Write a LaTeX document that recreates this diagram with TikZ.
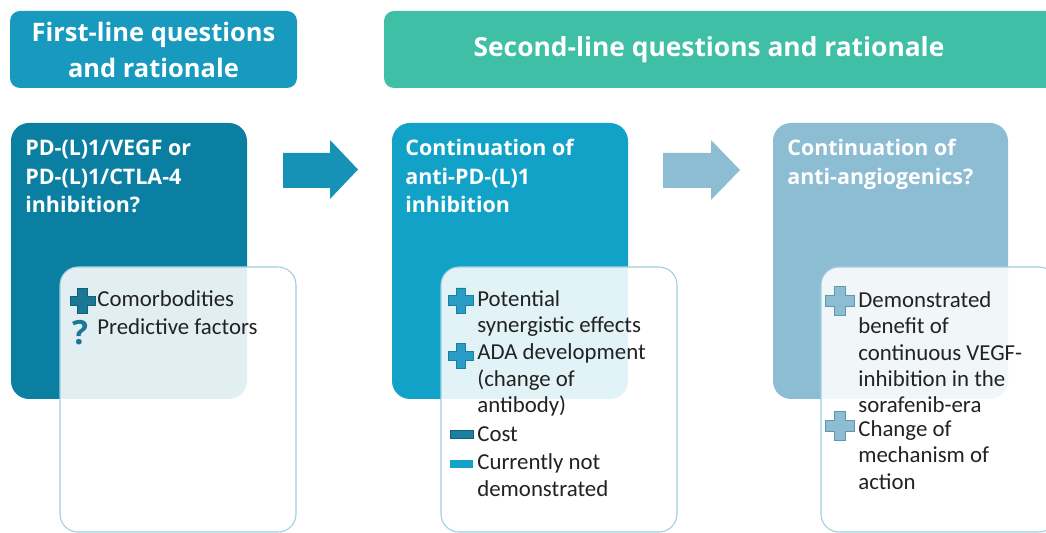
\documentclass[tikz,border=0pt]{standalone}
\usepackage{fontspec}
\setmainfont{Carlito}
\newfontfamily\headfont{Open Sans}
\definecolor{hdrA}{HTML}{1899BE}
\definecolor{hdrB}{HTML}{3FBFA5}
\definecolor{boxA}{HTML}{0B7FA1}
\definecolor{boxB}{HTML}{12A2C7}
\definecolor{boxC}{HTML}{8DBDD3}
\definecolor{wborder}{HTML}{9CCFE0}
\definecolor{icoA}{HTML}{1A7896}
\definecolor{icoAline}{HTML}{125F78}
\definecolor{icoB}{HTML}{2A9DC6}
\definecolor{icoBline}{HTML}{1A7FA0}
\definecolor{icoC}{HTML}{8DBDD3}
\definecolor{icoCline}{HTML}{5F97AF}
\definecolor{arrA}{HTML}{1592B5}
\definecolor{bodytext}{HTML}{222222}
\newcommand{\lines}[1]{\begin{tabular}[t]{@{}l@{}}#1\end{tabular}}
\tikzset{
  plusicon/.pic={\path[pic actions] (0.38,1) -- (0.38,0.38) -- (1,0.38) -- (1,-0.38) -- (0.38,-0.38) -- (0.38,-1) -- (-0.38,-1) -- (-0.38,-0.38) -- (-1,-0.38) -- (-1,0.38) -- (-0.38,0.38) -- (-0.38,1) -- cycle;},
  hdrtext/.style={font=\headfont\bfseries\fontsize{14.5}{20}\selectfont, text=white, align=center, inner sep=0pt},
  titletext/.style={font=\headfont\bfseries\fontsize{12.2}{16.2}\selectfont, text=white, anchor=base west, inner sep=0pt},
  itemtext/.style={font=\fontsize{13}{14.8}\selectfont, text=bodytext, anchor=base west, inner sep=0pt},
  whitebox/.style={fill=white, fill opacity=0.88, draw=wborder, line width=0.6pt, rounded corners=0.36cm},
  bigbox/.style={rounded corners=0.36cm},
}
\begin{document}
\begin{tikzpicture}[x=0.02cm, y=-0.02cm]
\useasboundingbox (0,0) rectangle (1046,533);
\clip (0,0) rectangle (1046,533);
% headers
\path[fill=hdrA, rounded corners=0.2cm] (10,11) rectangle (297,88);
\path[fill=hdrB, rounded corners=0.2cm] (384,11) rectangle (1070,88);
\node[hdrtext] (h1) at (153.5,50) {First-line questions\\and rationale};
\node[hdrtext, font=\headfont\bfseries\fontsize{15}{20}\selectfont] (h2) at (709,50) {Second-line questions and rationale};
% big boxes
\path[fill=boxA, bigbox] (11,123) rectangle (247,399);
\path[fill=boxB, bigbox] (392,123) rectangle (628,399);
\path[fill=boxC, bigbox] (773,123) rectangle (1008,399);
% arrows
\path[fill=arrA] (283,153) -- (330,153) -- (330,140) -- (358,169.5) -- (330,199) -- (330,188) -- (283,188) -- cycle;
\path[fill=boxC] (663,153) -- (711,153) -- (711,140) -- (740,170) -- (711,200) -- (711,188) -- (663,188) -- cycle;
% titles
\node[titletext] (t1) at (25,156) {\lines{PD-(L)1/VEGF or\\PD-(L)1/CTLA-4\\inhibition?}};
\node[titletext] (t2) at (405,156) {\lines{Continuation of\\anti-PD-(L)1\\inhibition}};
\node[titletext] (t3) at (787,156) {\lines{Continuation of\\anti-angiogenics?}};
% white boxes
\path[whitebox] (60,267) rectangle (296,532);
\path[whitebox] (441,267) rectangle (677,532);
\path[whitebox] (821,267) rectangle (1057,532);
% box 1 items
\pic[fill=icoA, draw=icoAline, line width=0.4pt, scale=12.5] at (82.5,301) {plusicon};
\node[font=\headfont\bfseries\fontsize{19}{20}\selectfont, text=icoA, inner sep=0pt, anchor=base] (q1) at (80,345) {?};
\node[itemtext] (i11) at (97,307) {Comorbodities};
\node[itemtext] (i12) at (97,335) {Predictive factors};
% box 2 items
\pic[fill=icoB, draw=icoBline, line width=0.5pt, scale=12.5] at (461,300.5) {plusicon};
\pic[fill=icoB, draw=icoBline, line width=0.5pt, scale=12.5] at (461,356) {plusicon};
\path[fill=icoBline, draw=icoAline, line width=0.4pt] (450,430) rectangle (473,438.5);
\path[fill=boxB] (450,460) rectangle (473,468);
\node[itemtext] (i21) at (477,307) {\lines{Potential\\synergistic effects}};
\node[itemtext] (i22) at (477,360) {\lines{ADA development\\(change of\\antibody)}};
\node[itemtext] (i23) at (477,442) {Cost};
\node[itemtext] (i24) at (477,470) {\lines{Currently not\\demonstrated}};
% box 3 items
\pic[fill=icoC, draw=icoCline, line width=0.5pt, scale=14.5] at (840,301) {plusicon};
\pic[fill=icoC, draw=icoCline, line width=0.5pt, scale=14.5] at (840,426) {plusicon};
\node[itemtext] (i31) at (858,308) {\lines{Demonstrated\\benefit of\\continuous VEGF-\\inhibition in the\\sorafenib-era}};
\node[itemtext] (i32) at (858,437) {\lines{Change of\\mechanism of\\action}};
\end{tikzpicture}
\end{document}
